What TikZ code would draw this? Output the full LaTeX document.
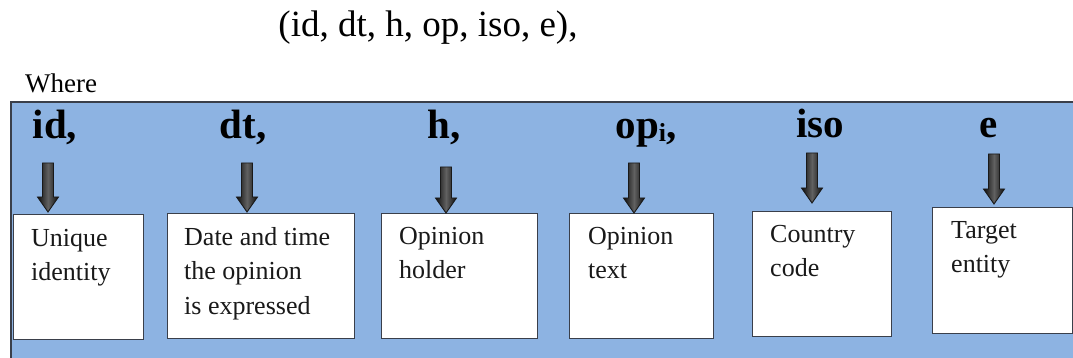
\documentclass[tikz,border=0pt]{standalone}
\usepackage{fontspec}
\setmainfont{Liberation Serif}
\usetikzlibrary{calc}
\definecolor{panel}{HTML}{8DB3E2}
\definecolor{edge}{HTML}{3A3F4A}
\tikzset{
  panelbox/.style={draw=edge, line width=1.6pt, fill=panel, inner sep=0pt, anchor=north west},
  infobox/.style={draw=edge, line width=1.3pt, fill=white, inner sep=0pt, anchor=north west, minimum height=125pt},
  boxtext/.style={anchor=north west, inner sep=0pt, align=left, text=black!90, font=\fontsize{26}{34.5}\selectfont},
  keylabel/.style={anchor=base, inner sep=0pt, font=\fontsize{41}{41}\selectfont\bfseries},
  barrow/.pic={
    \shade[draw=black!90, line width=0.9pt, left color=black!95, right color=black!95, middle color=black!62]
      (-5.5,-#1) -- (5.5,-#1) -- (5.5,-15) -- (10.5,-15) -- (0,0) -- (-10.5,-15) -- (-5.5,-15) -- cycle;
  }
}
\begin{document}
\begin{tikzpicture}[x=1pt,y=-1pt]
\useasboundingbox (0,0) rectangle (1073,358);
\clip (0,0) rectangle (1073,358);
% title and "Where"
\node[anchor=base, inner sep=0pt, font=\fontsize{37}{37}\selectfont] (title) at (428,37) {(id, dt, h, op, iso, e),};
\node[anchor=base west, inner sep=0pt, font=\fontsize{27}{27}\selectfont] (where) at (25,93) {Where};
% panel
\node[panelbox, minimum width=1100pt, minimum height=290pt] (panel) at (10,101) {};
% key labels
\node[keylabel] (l1) at (55,139) {id,};
\node[keylabel] (l2) at (243,139) {dt,};
\node[keylabel] (l3) at (444,139) {h,};
\node[keylabel] (l4) at (646,139) {op{\fontsize{26}{26}\selectfont\raisebox{-3pt}{i}},};
\node[keylabel] (l5) at (820,138) {iso};
\node[keylabel] (l6) at (989,138) {e};
% boxes
\node[infobox, minimum width=130pt] (b1) at (13,214) {};
\node[infobox, minimum width=187pt] (b2) at (167,213) {};
\node[infobox, minimum width=156pt] (b3) at (381,213) {};
\node[infobox, minimum width=144pt] (b4) at (569,213) {};
\node[infobox, minimum width=139pt] (b5) at (752,211) {};
\node[infobox, minimum width=140pt, minimum height=126pt] (b6) at (932,207) {};
% box texts
\node[boxtext] (t1) at ($(b1.north west)+(18,15)$) {Unique\\identity};
\node[boxtext] (t2) at ($(b2.north west)+(17,14)$) {Date and time\\the opinion\\is expressed};
\node[boxtext] (t3) at ($(b3.north west)+(18,14)$) {Opinion\\holder};
\node[boxtext] (t4) at ($(b4.north west)+(19,14)$) {Opinion\\text};
\node[boxtext] (t5) at ($(b5.north west)+(18,14)$) {Country\\code};
\node[boxtext] (t6) at ($(b6.north west)+(19,14)$) {Target\\entity};
% arrows
\pic (a1) at (48,212) {barrow=49};
\pic (a2) at (247,212) {barrow=49};
\pic (a3) at (446,213) {barrow=46};
\pic (a4) at (634,213) {barrow=50};
\pic (a5) at (812,203) {barrow=50};
\pic (a6) at (994,204) {barrow=50};
\end{tikzpicture}
\end{document}
